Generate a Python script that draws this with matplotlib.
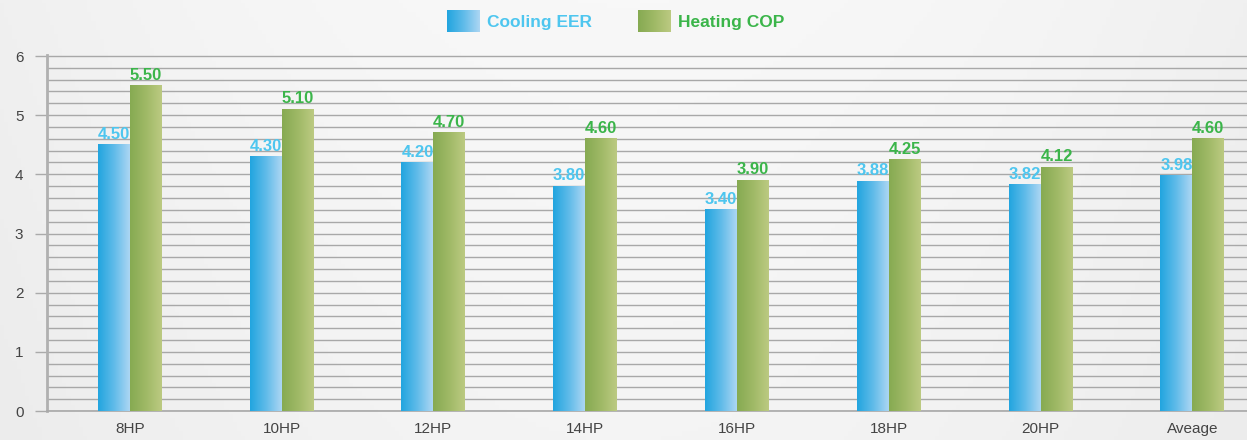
import numpy as np
import matplotlib
matplotlib.use("Agg")
import matplotlib.pyplot as plt
from matplotlib.colors import LinearSegmentedColormap

categories = ["8HP", "10HP", "12HP", "14HP", "16HP", "18HP", "20HP", "Aveage"]
cooling_eer = [4.50, 4.30, 4.20, 3.80, 3.40, 3.88, 3.82, 3.98]
heating_cop = [5.50, 5.10, 4.70, 4.60, 3.90, 4.25, 4.12, 4.60]
cooling_labels = ["4.50", "4.30", "4.20", "3.80", "3.40", "3.88", "3.82", "3.98"]
heating_labels = ["5.50", "5.10", "4.70", "4.60", "3.90", "4.25", "4.12", "4.60"]
series_names = ["Cooling EER", "Heating COP"]

blue_cmap = LinearSegmentedColormap.from_list("b", ["#22a5df", "#5fbbe9", "#acd6f3"])
green_cmap = LinearSegmentedColormap.from_list("g", ["#86aa52", "#9fb966", "#bcca82"])
blue_text = "#4ec6ef"
green_text = "#3bb54a"

plt.rcParams['font.family'] = ['Liberation Sans', 'DejaVu Sans']

fig = plt.figure(figsize=(12.47, 4.4), dpi=100)
fig.patch.set_facecolor("#f1f1f1")

# background gradient
bg = fig.add_axes([0, 0, 1, 1], zorder=-10)
xg = np.linspace(-1, 1, 300)
yg = np.linspace(0, 1, 100)
X, Y = np.meshgrid(xg, yg)
Z = 1 - 0.6 * X**2 - 0.3 * Y
bg.imshow(Z, extent=[0, 1, 0, 1], aspect='auto', origin='upper',
          cmap=LinearSegmentedColormap.from_list("bg", ["#ececec", "#f8f8f8"]))
bg.axis('off')

ax = fig.add_axes([47/1247, 29/440, 1 - 47/1247, (411-56)/440 * 6.02/6])
ax.set_facecolor('none')
x = np.arange(len(categories))
w = 0.21
grad = np.linspace(0, 1, 100).reshape(1, -1)

b1 = ax.bar(x - w/2, cooling_eer, w, color='none', zorder=3)
b2 = ax.bar(x + w/2, heating_cop, w, color='none', zorder=3)
for bars, cmap in ((b1, blue_cmap), (b2, green_cmap)):
    for r in bars:
        x0, y0 = r.get_x(), r.get_y()
        ax.imshow(grad, extent=[x0, x0 + r.get_width(), y0, y0 + r.get_height()],
                  aspect='auto', cmap=cmap, zorder=3)

for xi, v, t in zip(x, cooling_eer, cooling_labels):
    ax.text(xi - w/2, v + 0.05, t, ha='center', va='bottom', color=blue_text,
            fontsize=12, fontweight='bold', zorder=4)
for xi, v, t in zip(x, heating_cop, heating_labels):
    ax.text(xi + w/2, v + 0.05, t, ha='center', va='bottom', color=green_text,
            fontsize=12, fontweight='bold', zorder=4)

ax.set_xlim(-0.545, 7.36)
ax.set_ylim(0, 6.02)
ax.set_yticks(np.arange(0, 7, 1))
ax.set_yticks(np.arange(0, 6.01, 0.2), minor=True)
ax.grid(True, axis='y', which='both', color='#a8a8a8', linewidth=1.0, zorder=0)
ax.set_axisbelow(True)
ax.set_xticks(x)
ax.set_xticklabels(categories)
ax.tick_params(axis='x', length=0, pad=8, labelsize=11, labelcolor='#444444')
ax.tick_params(axis='y', which='major', length=9, width=1, color='#aaaaaa',
               labelsize=11, labelcolor='#444444', pad=8)
ax.tick_params(axis='y', which='minor', length=0)
for s in ['top', 'right']:
    ax.spines[s].set_visible(False)
ax.spines['left'].set_color('#b0b0b0')
ax.spines['left'].set_linewidth(2)
ax.spines['bottom'].set_color('#a8a8a8')
ax.spines['bottom'].set_linewidth(1.2)

# legend
for (px, tx, cmap, name, col) in ((447, 487, blue_cmap, series_names[0], blue_text),
                                  (638, 678, green_cmap, series_names[1], green_text)):
    la = fig.add_axes([px/1247, (440-32)/440, 33/1247, 22/440])
    la.imshow(grad, extent=[0, 1, 0, 1], aspect='auto', cmap=cmap)
    la.axis('off')
    fig.text(tx/1247, (440-22)/440, name, color=col, fontsize=12.5,
             fontweight='bold', va='center', ha='left')

fig.savefig("out.png", dpi=100, facecolor=fig.get_facecolor())
